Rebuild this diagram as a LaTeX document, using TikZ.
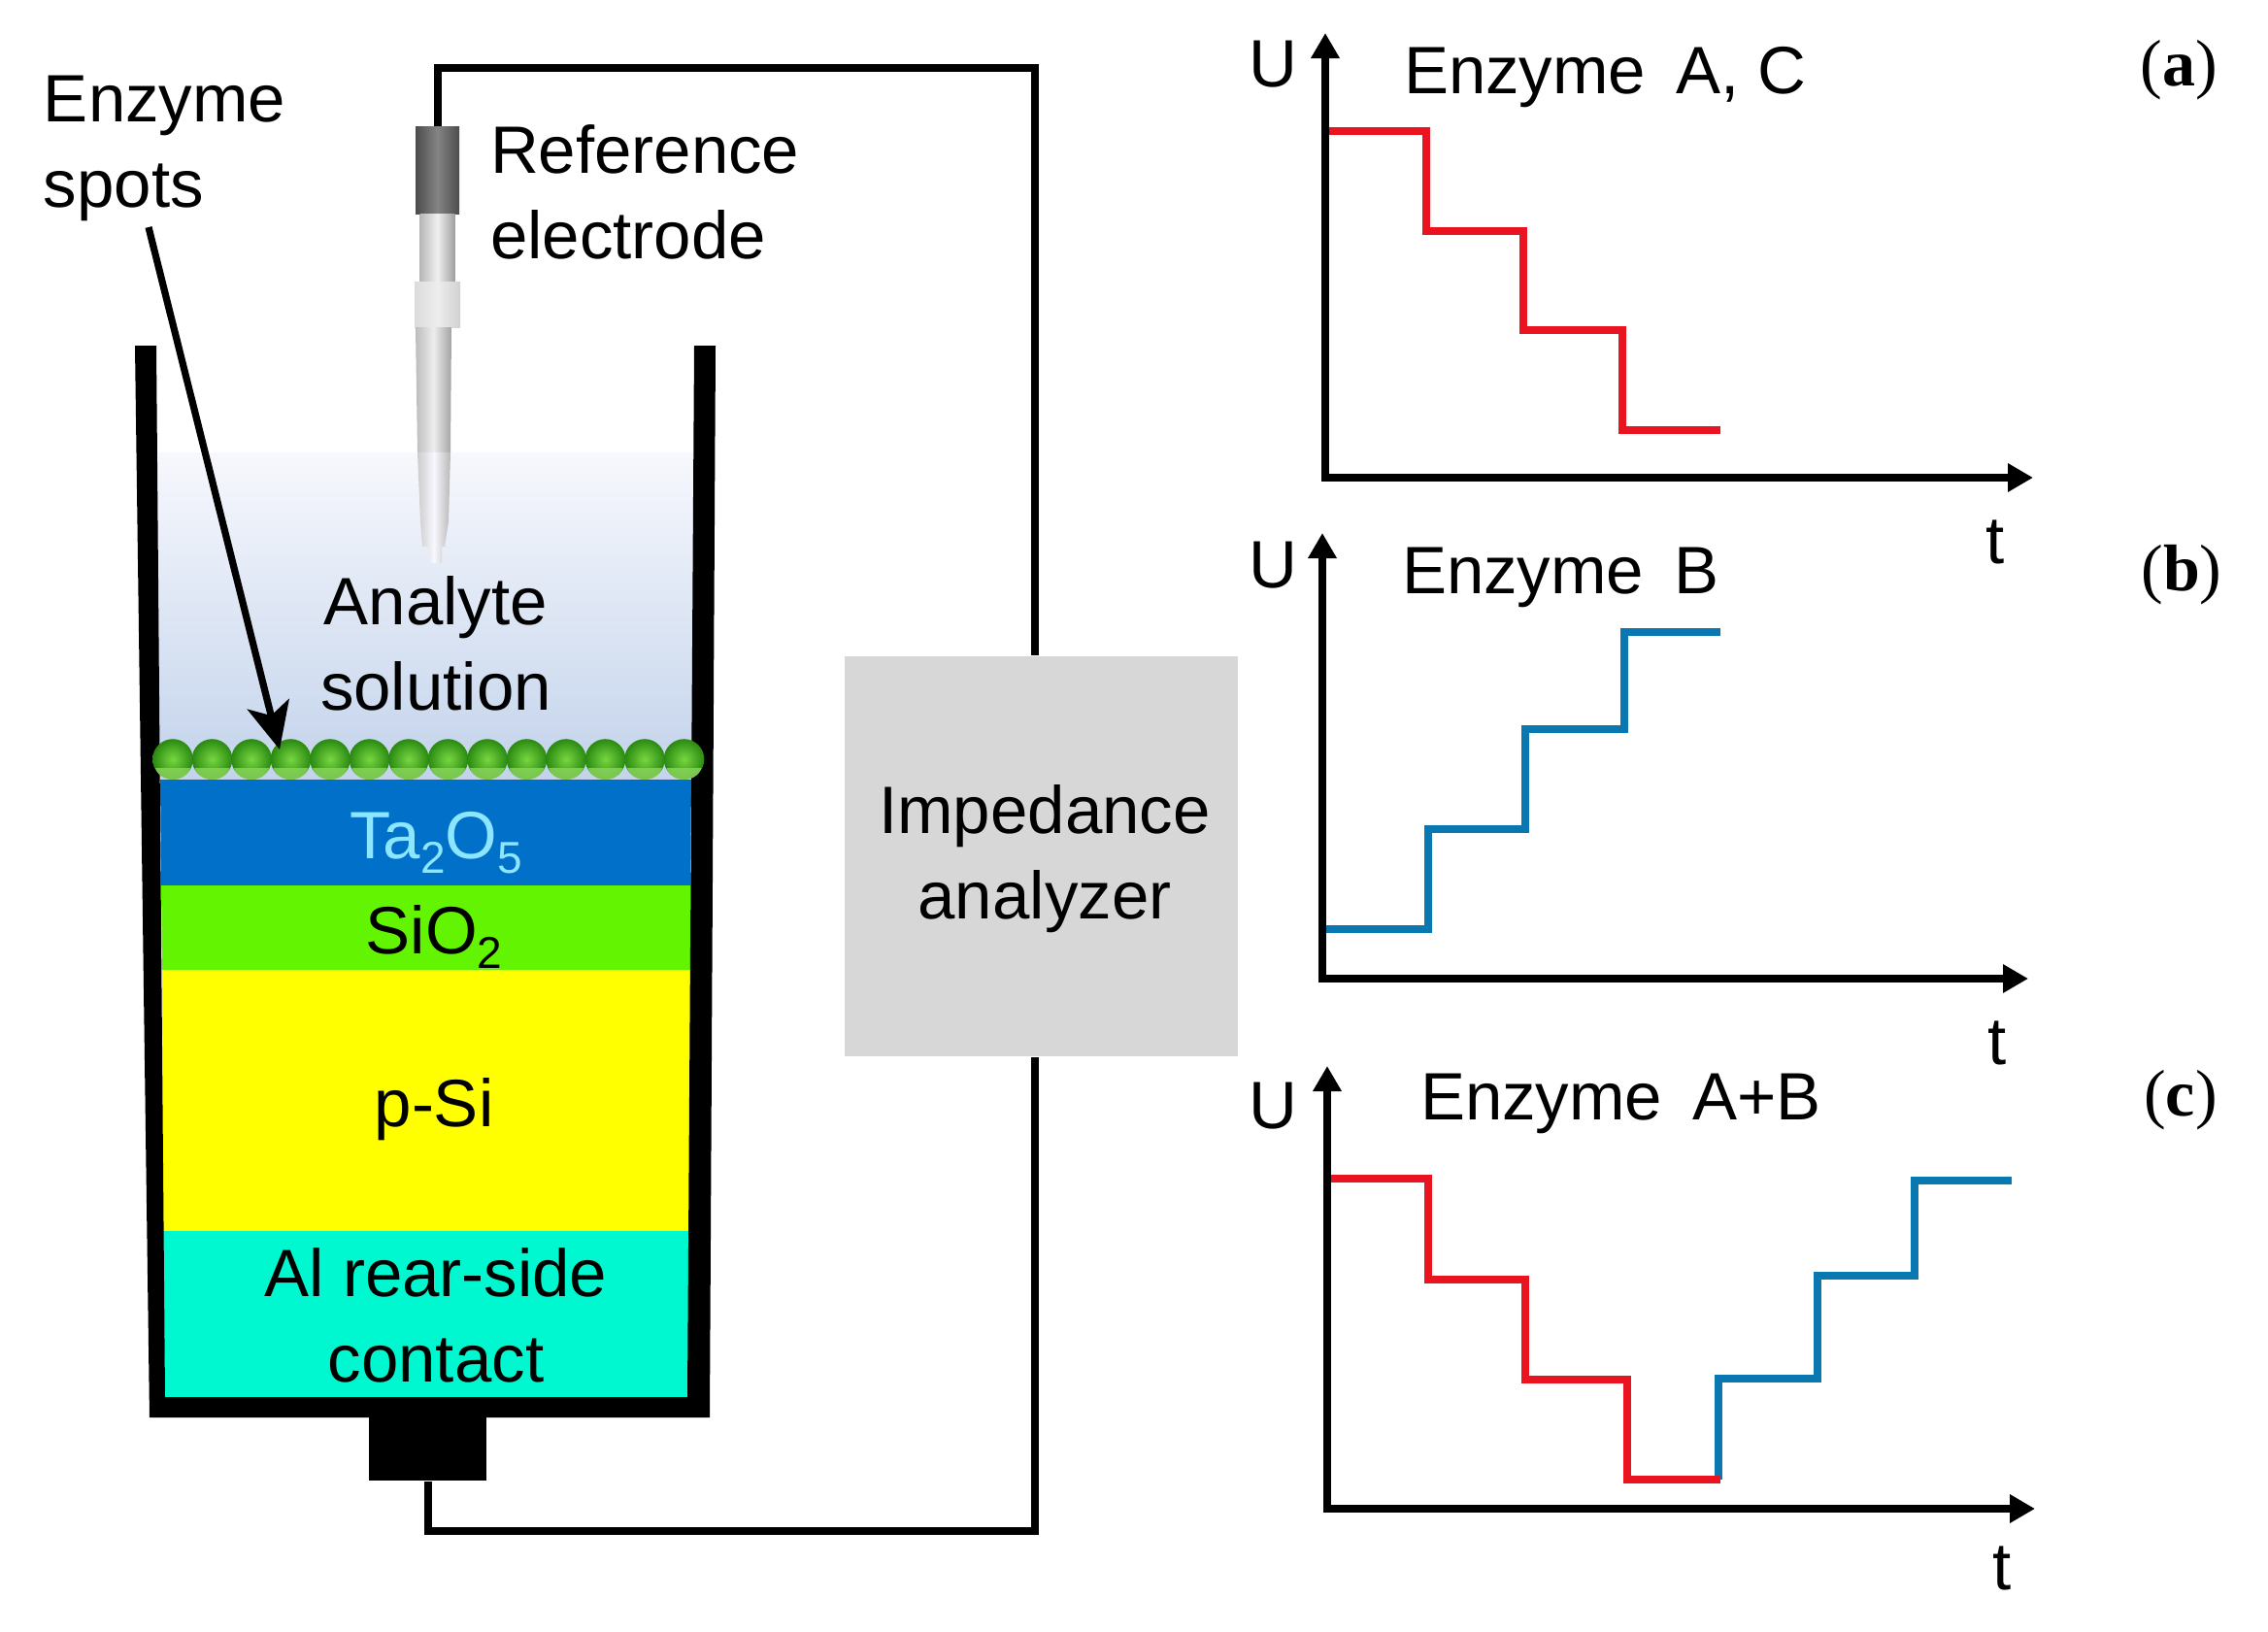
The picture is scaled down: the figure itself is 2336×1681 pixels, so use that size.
\documentclass[tikz,border=0pt]{standalone}
\usepackage{fontspec}
\setmainfont{Liberation Sans}
\newfontfamily\panelfont{Liberation Serif}
\usetikzlibrary{positioning,arrows.meta}
\definecolor{taBlue}{HTML}{0070C8}
\definecolor{taText}{HTML}{8CE6FF}
\definecolor{sioGreen}{HTML}{62F400}
\definecolor{siYellow}{HTML}{FFFF00}
\definecolor{alCyan}{HTML}{00F8D0}
\definecolor{stepRed}{HTML}{EA1420}
\definecolor{stepBlue}{HTML}{0A78B0}
\definecolor{boxGray}{HTML}{D7D7D7}
\definecolor{liquidTop}{HTML}{F7F8FD}
\definecolor{liquidBottom}{HTML}{C3D3EB}
\definecolor{spotLight}{HTML}{78D640}
\definecolor{spotDark}{HTML}{2A8A12}
\definecolor{spotBand}{HTML}{8CD65C}
\newcommand{\lowsub}[1]{\raisebox{-0.22em}{\fontsize{11.5}{12}\selectfont #1}}
\tikzset{
  plain text/.style={inner sep=0pt,outer sep=0pt,anchor=base,align=center,font=\fontsize{17.25}{22}\selectfont},
  left text/.style={plain text,align=left,anchor=base west},
  panel text/.style={plain text,font=\fontsize{17}{20}\selectfont\panelfont},
  wire/.style={draw,line width=2pt,line join=miter},
  axis/.style={line width=2pt,{Triangle[length=6.5pt,width=7pt]}-{Triangle[length=6.5pt,width=7pt]}},
  red step/.style={draw=stepRed,line width=2pt},
  blue step/.style={draw=stepBlue,line width=2pt},
  tube part/.style={inner sep=0pt,outer sep=0pt,minimum height=#1,draw=none}
}

\begin{document}
\begin{tikzpicture}[x=0.25pt,y=-0.25pt]
  \useasboundingbox (0,0) rectangle (2336,1681);

  % analyte and layers
  \shade[top color=liquidTop,bottom color=liquidBottom] (161,466) rectangle (715,803);
  \fill[taBlue] (165,803) -- (712,803) -- (711,912) -- (166,912) -- cycle;
  \fill[sioGreen] (166,912) -- (711,912) -- (711,999) -- (167,999) -- cycle;
  \fill[siYellow] (167,999) -- (711,999) -- (710,1268) -- (168,1268) -- cycle;
  \fill[alCyan] (168,1268) -- (710,1268) -- (709,1440) -- (170,1440) -- cycle;

  % beaker
  \fill (139,356) -- (161,356) -- (170,1439) -- (708,1439) -- (715,356) -- (737,356)
        -- (731,1460) -- (154,1460) -- cycle;
  \node[fill,inner sep=0pt,minimum width=30.25pt,minimum height=16.25pt] (backcontact) at (440.5,1492.5) {};

  % enzyme spots
  \foreach \i in {0,...,13} {
    \pgfmathsetmacro{\sx}{178+40.5*\i}
    \shade[inner color=spotLight,outer color=spotDark] (\sx,782) circle[radius=5.2pt];
    \fill[spotBand,opacity=0.8] (\sx-18,791) -- (\sx+18,791)
        .. controls (\sx+13,807) and (\sx-13,807) .. (\sx-18,791) -- cycle;
  }

  % reference electrode
  \node[tube part=22.5pt,minimum width=11.25pt,left color=black!70,right color=black!70,middle color=black!48] (refcap) at (450.5,175) {};
  \node[tube part=17.5pt,minimum width=9pt,left color=black!28,right color=black!38,middle color=black!6,below=0pt of refcap] (refbody) {};
  \node[tube part=11.75pt,minimum width=11.75pt,left color=black!14,right color=black!18,middle color=black!7,below=0pt of refbody] (refcollar) {};
  \shade[left color=black!26,right color=black!36,middle color=black!7] (428,337) -- (465,337) -- (464,466) -- (430,466) -- cycle;
  \shade[left color=black!20,right color=black!28,middle color=blue!3!white] (430,466) -- (464,466) -- (462,537) -- (458,563)
        -- (455,563) -- (455,580) -- (442,580) -- (442,563) -- (435,563) -- (433,537) -- cycle;

  % analyzer and wires
  \node[fill=boxGray,inner sep=0pt,minimum width=101.25pt,minimum height=103pt] (analyzer) at (1072.5,882) {};
  \coordinate (wiretop) at (1066,70);
  \coordinate (wirebot) at (1066,1577);
  \draw[wire] (refcap.north) |- (wiretop) -- (wiretop |- analyzer.north);
  \draw[wire] (backcontact.south) |- (wirebot) -- (wirebot |- analyzer.south);

  % texts of the cell
  \node[left text] (spotslabel) at (45,213) {Enzyme\\spots};
  \node[left text] (reflabel) at (505,266) {Reference\\electrode};
  \node[plain text] (analyte) at (449,731) {Analyte\\solution};
  \node[plain text,text=taText] (tatext) at (449,884) {Ta\lowsub{2}O\lowsub{5}};
  \node[plain text] (siotext) at (447,982) {SiO\lowsub{2}};
  \node[plain text] (sitext) at (447,1160) {p-Si};
  \node[plain text] (altext) at (449,1423) {Al rear-side\\contact};
  \node[plain text] (analyzertext) at (1076,946) {Impedance\\analyzer};

  \coordinate (arrowstart) at (153,234);
  \coordinate (arrowtip) at (288,772);
  \draw[line width=1.8pt,-{Stealth[length=12pt,width=11pt,inset=3pt]}] (arrowstart) -- (arrowtip);

  % plot a
  \coordinate (atop) at (1365,34);
  \coordinate (aorig) at (1365,492);
  \coordinate (aright) at (2094,492);
  \draw[red step] (1365,135) -- (1469,135) -- (1469,238) -- (1569,238) -- (1569,340) -- (1671,340) -- (1671,443) -- (1772,443);
  \draw[axis] (atop) -- (aorig) -- (aright);
  \node[plain text] (aU) at (1311,90) {U};
  \node[left text] (atitle) at (1446,96) {Enzyme\hspace{3pt} A, C};
  \node[plain text] (at) at (2055,580) {t};
  \node[panel text] (apanel) at (2244,88) {(\textbf{a})};

  % plot b
  \coordinate (btop) at (1362,549);
  \coordinate (borig) at (1362,1008);
  \coordinate (bright) at (2089,1008);
  \draw[blue step] (1362,957) -- (1471,957) -- (1471,854) -- (1571,854) -- (1571,751) -- (1673,751) -- (1673,651) -- (1772,651);
  \draw[axis] (btop) -- (borig) -- (bright);
  \node[plain text] (bU) at (1311,605) {U};
  \node[left text] (btitle) at (1444,611) {Enzyme\hspace{3pt} B};
  \node[plain text] (bt) at (2057,1096) {t};
  \node[panel text] (bpanel) at (2247,608) {(\textbf{b})};

  % plot c
  \coordinate (ctop) at (1367,1098);
  \coordinate (corig) at (1367,1554);
  \coordinate (cright) at (2096,1554);
  \draw[blue step] (1770,1524) -- (1770,1420) -- (1872,1420) -- (1872,1314) -- (1972,1314) -- (1972,1216) -- (2072,1216);
  \draw[red step] (1367,1214) -- (1471,1214) -- (1471,1318) -- (1571,1318) -- (1571,1421) -- (1676,1421) -- (1676,1524) -- (1772,1524);
  \draw[axis] (ctop) -- (corig) -- (cright);
  \node[plain text] (cU) at (1311,1162) {U};
  \node[left text] (ctitle) at (1463,1153) {Enzyme\hspace{3pt} A+B};
  \node[plain text] (ct) at (2062,1637) {t};
  \node[panel text] (cpanel) at (2246,1149) {(\textbf{c})};
\end{tikzpicture}
\end{document}
